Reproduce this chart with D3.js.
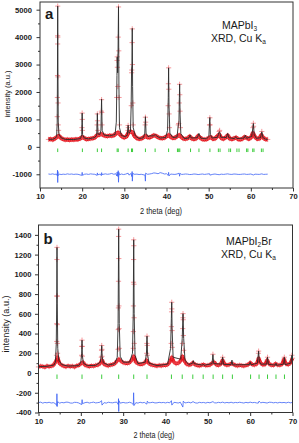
<!DOCTYPE html>
<html lang="en">
<head>
<meta charset="UTF-8">
<title>XRD refinement</title>
<style>
  body { margin: 0; background: #fff; }
  svg text { font-family: "Liberation Sans", Arial, sans-serif; fill: #1a1a1a; }
</style>
</head>
<body>
<div id="chart"></div>
<script src="https://d3js.org/d3.v7.min.js"></script>
<script>
// ---- shared ----
var xTicks = [10, 20, 30, 40, 50, 60, 70];
var xMinor = [15, 25, 35, 45, 55, 65];

// ---- panel a : MAPbI3 ----
var yTicksA = [-1000, 0, 1000, 2000, 3000, 4000, 5000];
var yMinorA = [-500, 500, 1500, 2500, 3500, 4500];
var calcA = [[12,275],[13,275],[13.6,310],[13.95,380],[14.08,900],[14.14,2600],[14.2,5130],[14.26,2600],[14.33,900],[14.5,450],[15,330],[16,270],[18,265],[19.6,300],[19.9,450],[20.0,1230],[20.1,450],[20.5,320],[21.5,290],[23,340],[23.45,430],[23.6,1220],[23.75,470],[24.2,450],[24.45,600],[24.6,1740],[24.75,600],[25.2,430],[26.5,400],[27.8,450],[28.1,900],[28.25,2600],[28.32,3280],[28.42,2700],[28.52,3600],[28.62,5110],[28.72,2200],[28.85,700],[29.3,420],[30.3,360],[30.7,450],[30.9,790],[31.1,500],[31.45,550],[31.62,1500],[31.72,2800],[31.8,3000],[31.88,4320],[31.96,2200],[32.1,700],[32.6,400],[33.5,300],[34.5,330],[34.85,500],[35.0,1100],[35.15,500],[35.6,370],[36.1,400],[37.0,400],[37.3,450],[37.6,400],[38.5,320],[39.8,340],[40.25,600],[40.42,1800],[40.5,2880],[40.6,1500],[40.8,500],[41.5,340],[42.5,360],[42.8,800],[42.95,900],[43.05,1800],[43.12,2290],[43.22,1200],[43.4,480],[44.2,300],[45.3,320],[45.6,430],[45.9,320],[47.3,330],[47.7,490],[48.1,320],[49.5,290],[50.05,380],[50.2,900],[50.28,1070],[50.4,450],[50.8,320],[52.1,350],[52.4,520],[52.6,550],[52.9,350],[54.2,340],[54.5,490],[54.8,330],[56.1,300],[56.4,370],[56.7,300],[58.4,320],[58.7,420],[59.0,310],[60.2,380],[60.45,650],[60.6,850],[60.8,450],[61.3,310],[62.3,330],[62.6,550],[62.9,330],[63.5,280],[64,270]];
var obsBaseA = [[12,270],[12.5,285],[13,260],[13.5,300],[14,360],[14.5,400],[15,320],[15.5,280],[16,255],[16.5,270],[17,250],[17.5,265],[18,260],[18.5,275],[19,270],[19.5,300],[20,360],[20.5,320],[21,280],[21.5,290],[22,300],[22.5,310],[23,340],[23.5,420],[24,430],[24.5,470],[25,430],[25.5,400],[26,390],[26.5,410],[27,400],[27.5,420],[28,480],[28.5,520],[29,450],[29.5,370],[30,340],[30.5,380],[31,520],[31.5,560],[32,520],[32.5,380],[33,310],[33.5,290],[34,300],[34.5,340],[35,400],[35.5,350],[36,340],[36.5,380],[37,420],[37.5,400],[38,350],[38.5,320],[39,310],[39.5,330],[40,380],[40.5,430],[41,360],[41.5,320],[42,330],[42.5,380],[43,430],[43.5,360],[44,300],[44.5,290],[45,310],[45.5,380],[46,300],[46.5,280],[47,300],[47.5,400],[48,330],[48.5,280],[49,270],[49.5,280],[50,320],[50.5,360],[51,290],[51.5,300],[52,380],[52.5,450],[53,320],[53.5,290],[54,340],[54.5,420],[55,300],[55.5,280],[56,310],[56.5,340],[57,280],[57.5,270],[58,290],[58.5,360],[59,330],[59.5,290],[60,330],[60.5,500],[61,360],[61.5,290],[62,300],[62.5,430],[63,320],[63.5,280],[64,270]];
var obsPeakA = [[14.1,1100],[14.13,1800],[14.16,2600],[14.18,3750],[14.19,4050],[14.2,5130],[14.22,4000],[14.25,2550],[14.28,1600],[14.32,800],[14.4,600],[19.95,700],[20.0,1230],[20.03,1000],[20.06,600],[23.55,800],[23.6,1200],[23.64,950],[23.7,600],[24.55,1300],[24.6,1720],[24.65,1250],[24.7,800],[28.2,1800],[28.28,3150],[28.32,3280],[28.36,2900],[28.45,2200],[28.55,4000],[28.62,5100],[28.68,3500],[28.75,1800],[28.85,800],[30.85,600],[30.9,780],[30.95,700],[31.65,1500],[31.72,2700],[31.76,2800],[31.84,3800],[31.88,4300],[31.93,3000],[32.0,1600],[32.1,800],[34.95,800],[35.0,1080],[35.05,900],[40.4,1500],[40.46,2300],[40.5,2880],[40.55,2100],[40.62,1200],[40.7,700],[42.8,800],[42.9,850],[43.03,1600],[43.1,2280],[43.15,1900],[43.2,1300],[43.3,700],[50.2,800],[50.28,1060],[50.33,800],[52.5,560],[52.6,600],[60.5,700],[60.6,860],[60.65,750],[62.6,560]];
var diffA = [[12,-990],[12.5,-1000],[13,-985],[13.5,-1005],[13.9,-990],[14.1,-1050],[14.15,-850],[14.2,-1300],[14.25,-900],[14.3,-1050],[14.6,-990],[15,-1010],[15.5,-995],[16,-1005],[16.5,-985],[17,-1000],[17.5,-990],[18,-1005],[18.5,-995],[19,-1000],[19.9,-1040],[20.0,-930],[20.1,-1040],[20.5,-1000],[21,-990],[21.5,-1005],[22,-985],[22.5,-995],[23,-1000],[23.55,-1040],[23.6,-950],[23.7,-1020],[24.3,-990],[24.55,-1050],[24.62,-940],[24.7,-1010],[25.5,-985],[26,-1000],[26.5,-990],[27.0,-970],[27.5,-1000],[28.0,-980],[28.2,-1060],[28.3,-920],[28.45,-1080],[28.55,-870],[28.62,-1290],[28.7,-930],[28.85,-1020],[29.3,-990],[29.8,-1010],[30.3,-995],[30.9,-960],[31.1,-1030],[31.6,-970],[31.75,-1080],[31.85,-900],[31.9,-1250],[32.0,-960],[32.3,-1000],[33,-995],[33.5,-1010],[34,-1000],[34.9,-1030],[35.0,-1250],[35.05,-960],[35.5,-1000],[36,-990],[36.5,-975],[37,-950],[37.5,-960],[38,-980],[38.5,-940],[39,-960],[39.5,-990],[40,-980],[40.4,-1040],[40.5,-930],[40.6,-1060],[41,-990],[41.5,-1000],[42,-1005],[42.5,-990],[43.0,-960],[43.1,-1070],[43.2,-970],[43.6,-1005],[44,-1000],[44.5,-990],[45,-995],[45.5,-1010],[46,-1005],[46.5,-990],[47,-995],[47.5,-1010],[48,-1000],[48.5,-990],[49,-1005],[49.5,-995],[50.2,-980],[50.3,-1030],[51,-1000],[51.5,-990],[52,-1005],[52.5,-1015],[53,-995],[53.5,-1005],[54,-995],[54.5,-985],[55,-1000],[55.5,-1005],[56,-990],[56.5,-995],[57,-1005],[57.5,-1005],[58,-995],[58.5,-990],[59,-1005],[59.5,-1000],[60,-990],[60.6,-1025],[61,-995],[61.5,-1000],[62,-1005],[62.6,-985],[63,-1005],[63.5,-1000],[64,-995]];
var braggA = [14.2, 20.05, 23.6, 24.6, 28.3, 28.55, 30.9, 31.7, 31.95, 35.0, 37.3, 40.5, 42.6, 42.9, 43.15, 45.7, 47.7, 50.3, 52.3, 52.7, 54.8, 55.2, 56.7, 57.2, 59.0, 59.3, 60.45, 60.75, 62.5, 62.9];

// ---- panel b : MAPbI2Br ----
var yTicksB = [-400, -200, 0, 200, 400, 600, 800, 1000, 1200, 1400];
var yMinorB = [-300, -100, 100, 300, 500, 700, 900, 1100, 1300];
var calcB = [[10,65],[12,68],[13.6,80],[14.0,110],[14.2,300],[14.3,700],[14.37,1273],[14.44,700],[14.55,250],[14.8,130],[15.5,85],[17,70],[19.5,75],[20.0,110],[20.2,200],[20.28,333],[20.36,180],[20.6,100],[21.5,75],[23.5,78],[24.6,110],[24.82,180],[24.93,279],[25.04,170],[25.3,105],[26.5,80],[28.0,95],[28.6,160],[28.8,500],[28.94,1458],[29.08,500],[29.3,170],[30,110],[31.5,110],[32.2,200],[32.38,600],[32.49,1350],[32.6,600],[32.8,180],[33.5,95],[35.2,110],[35.5,200],[35.63,374],[35.76,190],[36.1,100],[38,75],[40.5,90],[41.2,250],[41.38,550],[41.47,717],[41.56,450],[41.8,160],[43.6,140],[43.95,350],[44.14,602],[44.3,350],[44.6,130],[45.5,85],[46.4,100],[46.57,125],[46.75,95],[48.7,80],[48.9,90],[49.1,78],[51.0,95],[51.2,188],[51.4,95],[53.3,90],[53.5,161],[53.7,88],[55.5,85],[55.7,131],[55.9,82],[59.8,85],[60.0,110],[60.2,82],[61.7,100],[61.9,180],[62.0,222],[62.15,120],[62.5,90],[63.9,90],[64.1,161],[64.3,88],[66,80],[66.1,100],[66.25,78],[67.9,90],[68.07,160],[68.25,85],[69.6,100],[69.85,180],[70,120]];
var obsBaseB = [[10,62],[10.5,70],[11,66],[11.5,60],[12,72],[12.5,65],[13,70],[13.5,78],[14,110],[14.5,160],[15,95],[15.5,80],[16,70],[16.5,64],[17,72],[17.5,66],[18,70],[18.5,62],[19,74],[19.5,78],[20,95],[20.5,110],[21,80],[21.5,72],[22,66],[22.5,74],[23,70],[23.5,78],[24,82],[24.5,95],[25,130],[25.5,90],[26,80],[26.5,74],[27,82],[27.5,86],[28,95],[28.5,120],[29,140],[29.5,120],[30,105],[30.5,100],[31,98],[31.5,105],[32,130],[32.5,170],[33,110],[33.5,95],[34,88],[34.5,90],[35,100],[35.5,130],[36,100],[36.5,86],[37,80],[37.5,76],[38,72],[38.5,78],[39,74],[39.5,80],[40,78],[40.5,85],[41,110],[41.5,160],[42,110],[42.5,95],[43,100],[43.5,120],[44,170],[44.5,120],[45,90],[45.5,82],[46,86],[46.5,105],[47,85],[47.5,78],[48,74],[48.5,80],[49,86],[49.5,76],[50,78],[50.5,82],[51,100],[51.5,110],[52,84],[52.5,78],[53,90],[53.5,130],[54,88],[54.5,80],[55,84],[55.5,95],[56,90],[56.5,78],[57,74],[57.5,80],[58,76],[58.5,72],[59,78],[59.5,84],[60,105],[60.5,86],[61,82],[61.5,90],[62,150],[62.5,100],[63,84],[63.5,86],[64,130],[64.5,92],[65,80],[65.5,78],[66,95],[66.5,82],[67,80],[67.5,88],[68,140],[68.5,92],[69,86],[69.5,100],[70,150]];
var obsPeakB = [[14.25,180],[14.3,320],[14.32,500],[14.34,780],[14.35,1150],[14.37,1273],[14.4,780],[14.42,490],[14.45,300],[14.5,200],[20.2,180],[20.25,270],[20.28,333],[20.31,270],[20.35,170],[24.85,160],[24.9,230],[24.93,279],[24.97,240],[25.0,170],[28.8,240],[28.85,440],[28.88,660],[28.9,930],[28.92,1384],[28.94,1458],[28.97,1160],[29.0,680],[29.03,450],[29.08,250],[32.38,250],[32.41,420],[32.43,680],[32.45,920],[32.47,1150],[32.49,1350],[32.52,1290],[32.55,900],[32.58,560],[32.62,300],[35.55,200],[35.6,300],[35.63,374],[35.67,280],[35.72,180],[41.35,300],[41.4,470],[41.44,620],[41.47,717],[41.5,650],[41.55,430],[41.6,260],[44.0,300],[44.07,450],[44.12,560],[44.14,602],[44.18,540],[44.22,380],[44.3,230],[51.2,190],[53.5,160],[61.95,200],[62.0,222],[64.1,160],[68.07,160],[69.85,180]];
var diffB = [[10,-300],[10.5,-295],[11,-305],[11.5,-298],[12,-302],[12.5,-296],[13,-304],[13.5,-300],[14,-310],[14.3,-330],[14.35,-210],[14.4,-340],[14.5,-290],[15,-305],[15.5,-298],[16,-302],[16.5,-295],[17,-296],[17.5,-304],[18,-305],[18.5,-297],[19,-298],[19.5,-303],[20.2,-320],[20.3,-270],[20.4,-310],[21,-300],[21.5,-296],[22,-304],[22.5,-299],[23,-295],[23.5,-303],[24,-300],[24.5,-296],[24.9,-280],[25.0,-325],[25.5,-300],[26,-305],[26.5,-296],[27,-300],[27.5,-302],[28,-297],[28.5,-295],[28.85,-320],[28.9,-260],[28.95,-390],[29.0,-280],[29.3,-305],[30,-298],[30.5,-303],[31,-302],[31.5,-296],[32,-304],[32.4,-320],[32.47,-200],[32.55,-330],[33,-300],[33.5,-305],[34,-296],[34.5,-302],[35,-298],[35.6,-315],[35.7,-285],[36,-302],[36.5,-300],[37,-296],[37.5,-303],[38,-302],[38.5,-297],[39,-301],[39.5,-298],[40,-303],[40.5,-297],[41,-302],[41.4,-280],[41.5,-325],[42,-297],[42.5,-300],[43,-304],[43.5,-296],[44.1,-345],[44.2,-285],[44.6,-303],[45,-300],[45.5,-296],[46,-303],[46.5,-290],[47,-302],[47.5,-305],[48,-297],[48.5,-301],[49,-298],[49.5,-304],[50,-297],[50.5,-302],[51.2,-290],[51.6,-302],[52,-303],[52.5,-297],[53,-301],[53.5,-295],[54,-303],[54.5,-298],[55,-302],[55.5,-296],[56,-303],[56.5,-298],[57,-301],[57.5,-296],[58,-300],[58.5,-304],[59,-297],[59.5,-302],[60,-295],[60.5,-301],[61,-298],[61.5,-303],[61.9,-305],[62.1,-285],[62.5,-302],[63,-297],[63.5,-300],[64,-304],[64.5,-296],[65,-297],[65.5,-302],[66,-298],[66.5,-303],[67,-297],[67.5,-301],[68,-298],[68.5,-303],[69,-296],[69.5,-302],[70,-298]];
var braggB = [14.37, 20.28, 24.93, 28.94, 32.49, 35.63, 41.4, 43.95, 46.45, 48.9, 51.25, 53.5, 55.8, 60.1, 62.1, 64.1, 66.1, 68.1];

var W = 299, H = 443;
var svg = d3.select('#chart').append('svg')
  .attr('width', W).attr('height', H);

var plain = d => String(d); // keep ascii hyphen, no thousands comma

function drawPanel(p) {
  var x = d3.scaleLinear().domain([10, 70]).range([p.left, p.right]);
  var y = d3.scaleLinear().domain(p.yDomain).range([p.bottom, p.top]);
  var g = svg.append('g');

  var line = d3.line().x(d => x(d[0])).y(d => y(d[1]));

  // bragg markers
  g.append('g').selectAll('line').data(p.bragg).join('line')
    .attr('x1', d => x(d)).attr('x2', d => x(d))
    .attr('y1', y(p.braggRange[0])).attr('y2', y(p.braggRange[1]))
    .attr('stroke', '#3ccc3c').attr('stroke-width', 1);

  // difference curve
  g.append('path').datum(p.diff).attr('d', line)
    .attr('fill', 'none').attr('stroke', '#3d63f5').attr('stroke-width', 0.8);

  // observed: dense band + crosses
  g.append('path').datum(p.obsBase).attr('d', line)
    .attr('fill', 'none').attr('stroke', '#e3121b').attr('stroke-width', p.band)
    .attr('stroke-linejoin', 'round');
  var obs = p.obsBase.concat(p.obsPeak);
  g.append('g').selectAll('path').data(obs).join('path')
    .attr('transform', d => `translate(${x(d[0])},${y(d[1])})`)
    .attr('d', 'M-2.6,0H2.6M0,-2.6V2.6')
    .attr('stroke', '#f0565c').attr('stroke-width', 0.8).attr('opacity', 0.75);

  // calculated
  g.append('path').datum(p.calc).attr('d', line)
    .attr('fill', 'none').attr('stroke', '#2a2a2a').attr('stroke-width', 0.9);

  // frame
  g.append('rect').attr('x', p.left).attr('y', p.top)
    .attr('width', p.right - p.left).attr('height', p.bottom - p.top)
    .attr('fill', 'none').attr('stroke', '#333').attr('stroke-width', 1);

  // axes
  var fs = '7.6px';
  var ax = g.append('g').attr('transform', `translate(0,${p.bottom})`)
    .call(d3.axisBottom(x).tickValues(xTicks).tickSize(3.5).tickSizeOuter(0).tickPadding(2.5).tickFormat(plain));
  g.append('g').attr('transform', `translate(0,${p.bottom})`)
    .call(d3.axisBottom(x).tickValues(xMinor).tickSize(2).tickSizeOuter(0).tickFormat(''));
  var ay = g.append('g').attr('transform', `translate(${p.left},0)`)
    .call(d3.axisLeft(y).tickValues(p.yTicks).tickSize(3.5).tickSizeOuter(0).tickPadding(p.yPad).tickFormat(plain));
  g.append('g').attr('transform', `translate(${p.left},0)`)
    .call(d3.axisLeft(y).tickValues(p.yMinor).tickSize(2).tickSizeOuter(0).tickFormat(''));
  g.selectAll('.domain').remove();
  g.selectAll('.tick line').attr('stroke', '#333');
  [ax, ay].forEach(a => a.selectAll('text')
    .style('font-family', '"Liberation Sans", Arial, sans-serif')
    .style('font-size', fs).style('font-weight', 'bold').attr('fill', '#1a1a1a'));

  // axis titles
  g.append('text').attr('x', p.xTitle[0]).attr('y', p.xTitle[1])
    .attr('text-anchor', 'middle').style('font-size', '9.5px')
    .attr('textLength', p.xTitle[2]).attr('lengthAdjust', 'spacingAndGlyphs')
    .text('2 theta (deg)');
  g.append('text')
    .attr('transform', `translate(${p.yTitle[0]},${p.yTitle[1]}) rotate(-90)`)
    .attr('text-anchor', 'middle').style('font-size', p.yTitle[3])
    .attr('textLength', p.yTitle[2]).attr('lengthAdjust', 'spacingAndGlyphs')
    .text('intensity (a.u.)');

  // panel letter
  g.append('text').attr('x', p.left + 5).attr('y', p.letterY)
    .style('font-size', '15px').style('font-weight', 'bold')
    .text(p.letter);

  // compound annotation
  var t1 = g.append('text').attr('x', p.note[0]).attr('y', p.note[1]).style('font-size', '10.5px');
  p.formula.forEach(s => {
    t1.append('tspan').attr('baseline-shift', s[1] ? '-30%' : null)
      .style('font-size', s[1] ? '6.5px' : null).text(s[0]);
  });
  var t2 = g.append('text').attr('x', p.note[2]).attr('y', p.note[3]).style('font-size', '10.5px');
  t2.append('tspan').text('XRD, Cu K');
  t2.append('tspan').attr('baseline-shift', '-30%').style('font-size', '6.5px').text('a');
}

drawPanel({
  left: 40, right: 293, top: 2, bottom: 188,
  yDomain: [-1500, 5280], yTicks: yTicksA, yMinor: yMinorA, yPad: 4.5,
  calc: calcA, obsBase: obsBaseA, obsPeak: obsPeakA, diff: diffA,
  bragg: braggA, braggRange: [-60, -190], band: 4,
  xTitle: [161, 213.5, 42], yTitle: [10, 94, 47, '8px'],
  letter: 'a', letterY: 18.5,
  note: [222, 28.5, 211, 41.5],
  formula: [['MAPbI', false], ['3', true]]
});

drawPanel({
  left: 38.5, right: 292.5, top: 225, bottom: 412.5,
  yDomain: [-400, 1500], yTicks: yTicksB, yMinor: yMinorB, yPad: 3.5,
  calc: calcB, obsBase: obsBaseB, obsPeak: obsPeakB, diff: diffB,
  bragg: braggB, braggRange: [-15, -60], band: 3.5,
  xTitle: [154, 438, 41], yTitle: [9, 324, 57, '9px'],
  letter: 'b', letterY: 243.5,
  note: [226, 245, 221, 257.5],
  formula: [['MAPbI', false], ['2', true], ['Br', false]]
});
</script>
</body>
</html>
